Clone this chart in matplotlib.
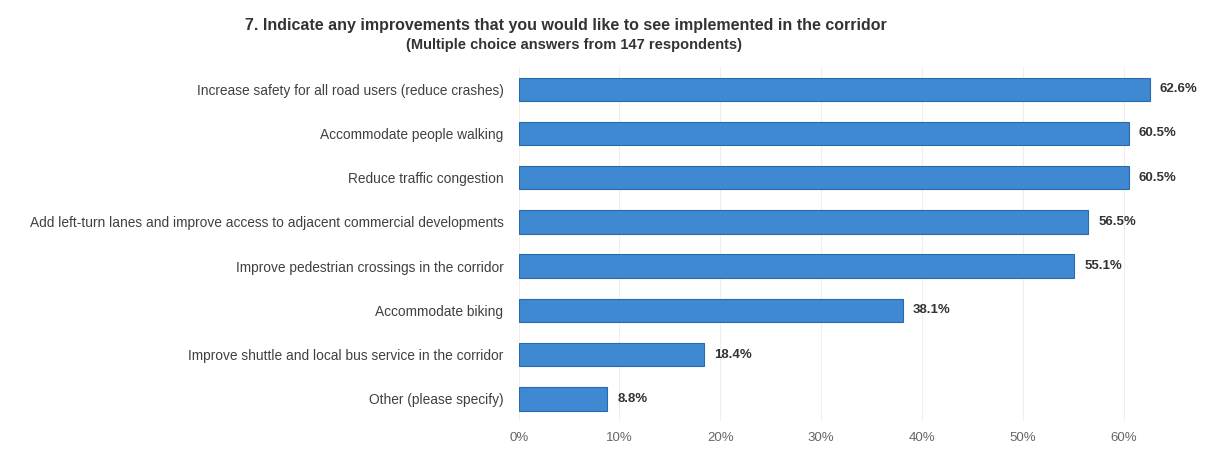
import matplotlib.pyplot as plt

categories = [
    "Increase safety for all road users (reduce crashes)",
    "Accommodate people walking",
    "Reduce traffic congestion",
    "Add left-turn lanes and improve access to adjacent commercial developments",
    "Improve pedestrian crossings in the corridor",
    "Accommodate biking",
    "Improve shuttle and local bus service in the corridor",
    "Other (please specify)",
]
percent = [62.6, 60.5, 60.5, 56.5, 55.1, 38.1, 18.4, 8.8]
xticks = [0, 10, 20, 30, 40, 50, 60]

plt.rcParams["font.family"] = ["Liberation Sans", "DejaVu Sans"]

fig = plt.figure(figsize=(12.09, 4.65), dpi=100)
ax = fig.add_axes([0.429, 0.0946, 0.542, 0.761])

y = list(range(len(categories)))
ax.barh(y, percent, height=0.53, color="#3f89d3", edgecolor="#2a6aab", linewidth=0.8)
for yi, v in zip(y, percent):
    ax.text(v + 1.0, yi, f"{v:.1f}%", va="center", ha="left",
            fontsize=9.5, fontweight="bold", color="#333333")

ax.set_ylim(len(categories) - 0.5, -0.5)
ax.set_xlim(0, 65)
ax.set_yticks(y)
ax.set_yticklabels(categories, fontsize=9.9, color="#404040")
ax.set_xticks(xticks)
ax.set_xticklabels([f"{t}%" for t in xticks], fontsize=9.5, color="#666666")
ax.tick_params(axis="both", length=0)
ax.tick_params(axis="y", pad=11)
ax.tick_params(axis="x", pad=8)
ax.grid(axis="x", color="#eeeeee", linewidth=0.8)
ax.set_axisbelow(True)
for s in ax.spines.values():
    s.set_visible(False)

fig.text(0.468, 0.945, "7. Indicate any improvements that you would like to see implemented in the corridor",
         ha="center", va="center", fontsize=11.5, fontweight="bold", color="#333333")
fig.text(0.475, 0.903, "(Multiple choice answers from 147 respondents)",
         ha="center", va="center", fontsize=10.5, fontweight="bold", color="#333333")

fig.savefig("out.png", dpi=100, facecolor="white")
